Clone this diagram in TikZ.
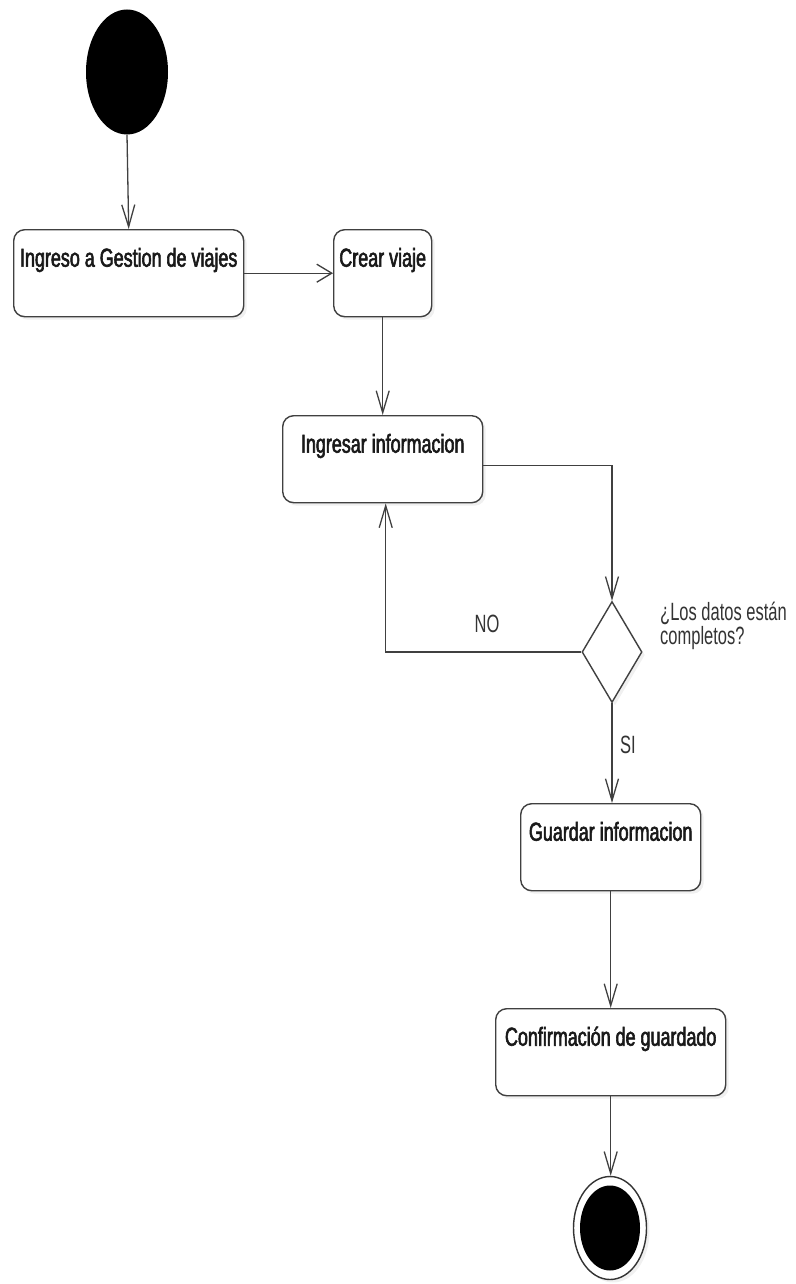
\documentclass[tikz,border=0pt]{standalone}
\usepackage{fontspec}
\setmainfont{Liberation Sans}
\newfontfamily\boxfont[FakeStretch=0.69,FakeBold=2.2]{Liberation Sans}
\newfontfamily\notefont[FakeStretch=0.66]{Liberation Sans}
\usetikzlibrary{arrows.meta,shapes.geometric,shadows,calc}

\tikzset{
  wire/.style={draw=black!75, line width=1.3pt},
  vhead/.style={-{Straight Barb[length=22pt,width=13pt,line width=1.3pt]}},
  hhead/.style={-{Straight Barb[length=15pt,width=18pt,line width=1.3pt]}},
  action/.style={draw=black!75, line width=1.4pt, fill=white, rounded corners=11pt,
    inner sep=0pt, text height=37pt, text depth=50pt, anchor=north west,
    font=\boxfont\fontsize{26}{28}\selectfont, text=black!90,
    drop shadow={opacity=0.12, shadow xshift=3pt, shadow yshift=-3pt}},
  note/.style={font=\notefont\fontsize{25}{22}\selectfont, text=black!80, inner sep=0pt},
}

\begin{document}
\begin{tikzpicture}[x=1pt,y=-1pt]
\useasboundingbox (0,0) rectangle (795,1284);

% start and end states
\node[ellipse, fill=black, minimum width=82pt, minimum height=125pt, inner sep=0pt] (start) at (127,72) {};
\node[ellipse, draw=black!80, line width=1.4pt, fill=white, minimum width=73pt, minimum height=103pt, inner sep=0pt,
      drop shadow={opacity=0.12, shadow xshift=3pt, shadow yshift=-3pt}] (stop) at (610,1228) {};
\node[ellipse, fill=black, minimum width=60pt, minimum height=85pt, inner sep=0pt] (stopdot) at (stop.center) {};

% actions
\node[action, minimum width=230pt] (gestion) at (13,229) {Ingreso a Gestion de viajes};
\node[action, minimum width=98pt]  (crear)   at (333,229) {Crear viaje};
\node[action, minimum width=200pt] (ingresar) at (282,415) {Ingresar informacion};
\node[action, minimum width=180pt] (guardar) at (520,803) {Guardar informacion};
\node[action, minimum width=230pt] (confirma) at (495,1008) {Confirmación de guardado};

% decision
\node[diamond, draw=black!75, line width=1.4pt, fill=white, minimum width=60pt, minimum height=101pt, inner sep=0pt,
      drop shadow={opacity=0.12, shadow xshift=3pt, shadow yshift=-3pt}] (check) at (612,652) {};

% labels
\node[note, anchor=west, align=left] (pregunta) at (660,626) {¿Los datos están\\completos?};
\node[note] (no) at (487,624) {NO};
\node[note] (si) at (628,745) {SI};

% flows
\draw[wire, vhead] (start.south) -- (gestion.north);
\draw[wire, hhead] (gestion.east) -- (crear.west);
\draw[wire, vhead] (crear.south) -- (crear.south |- ingresar.north);
\draw[wire, vhead] ([yshift=-6pt]ingresar.east) -| (check.north);
\draw[wire, vhead] (check.west) -| ([xshift=3pt]ingresar.south);
\draw[wire, vhead] (check.south) -- (check.south |- guardar.north);
\draw[wire, vhead] (guardar.south) -- (guardar.south |- confirma.north);
\draw[wire, vhead] (confirma.south) -- (confirma.south |- stop.north);
\end{tikzpicture}
\end{document}
